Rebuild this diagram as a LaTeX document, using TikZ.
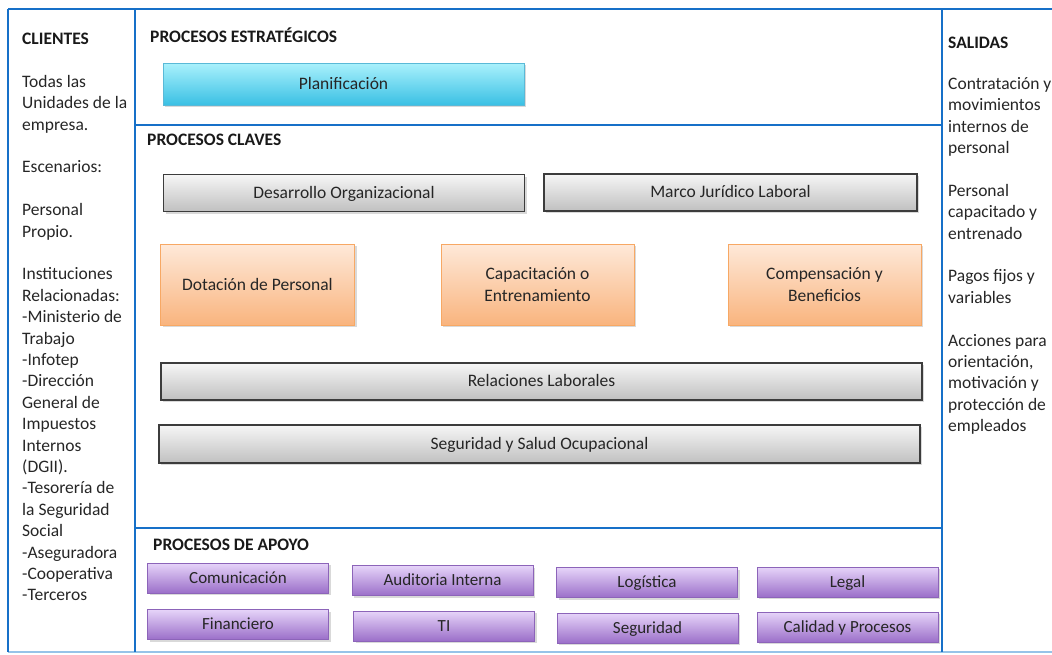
\documentclass[tikz,border=0pt]{standalone}
\usepackage{fontspec}
\setmainfont{Carlito}
\usetikzlibrary{shadows}
\definecolor{frameblue}{RGB}{22,112,200}
\definecolor{framelight}{RGB}{150,195,232}
\definecolor{txt}{RGB}{38,38,38}
\definecolor{cyantop}{RGB}{170,241,252}
\definecolor{cyanbot}{RGB}{58,192,228}
\definecolor{cyanline}{RGB}{90,185,215}
\definecolor{graytop}{RGB}{246,246,246}
\definecolor{graybot}{RGB}{192,192,192}
\definecolor{grayline}{RGB}{60,60,60}
\definecolor{orangetop}{RGB}{254,233,217}
\definecolor{orangebot}{RGB}{249,180,126}
\definecolor{orangeline}{RGB}{247,168,100}
\definecolor{purptop}{RGB}{230,212,249}
\definecolor{purpbot}{RGB}{155,111,201}
\definecolor{purpline}{RGB}{140,100,185}
\tikzset{
  frame/.style={draw=frameblue, line width=2.6pt},
  base/.style={inner sep=0pt, text=txt, font=\fontsize{17.5}{21.4}\selectfont,
    drop shadow={opacity=0.3, shadow xshift=2pt, shadow yshift=-2pt}},
  cyanbox/.style={base, draw=cyanline, line width=0.8pt, top color=cyantop, bottom color=cyanbot},
  graybox/.style={base, draw=grayline, line width=1.5pt, top color=graytop, bottom color=graybot, text height=12pt, text depth=2pt},
  orangebox/.style={base, draw=orangeline, line width=1pt, top color=orangetop, bottom color=orangebot, align=center},
  purpbox/.style={base, draw=purpline, line width=0.6pt, top color=purptop, bottom color=purpbot,
    minimum width=181, minimum height=30, font=\fontsize{17}{20}\selectfont, text height=12pt, text depth=2pt},
  coltext/.style={anchor=north west, inner sep=0pt, align=left, text=txt,
    font=\fontsize{17.5}{21.4}\selectfont},
  titletext/.style={anchor=base west, inner sep=0pt, text=black!90,
    font=\fontsize{17.5}{21.4}\selectfont\bfseries}
}
\begin{document}
\begin{tikzpicture}[x=1pt, y=-1pt]
\useasboundingbox (0,0) rectangle (1052,654);
% frame
\draw[framelight, line width=1.5pt] (8,652) -- (1052,652);
\draw[frame] (8,9) -- (1052,9);
\draw[frame] (8,9) -- (8,652);
\draw[frame] (135,9) -- (135,652);
\draw[frame] (942,9) -- (942,652);
\draw[frame] (135,125) -- (942,125);
\draw[frame] (135,528) -- (942,528);

% left column
\node[titletext] (clientes) at (22,44) {CLIENTES};
\node[coltext] (clientestxt) at (22,73) {\rule{0pt}{14pt}Todas las\\Unidades de la\\empresa.\\[21.4pt]Escenarios:\\[21.4pt]Personal\\Propio.\\[21.4pt]Instituciones\\Relacionadas:\\-Ministerio de\\Trabajo\\-Infotep\\-Dirección\\General de\\Impuestos\\Internos\\(DGII).\\-Tesorería de\\la Seguridad\\Social\\-Aseguradora\\-Cooperativa\\-Terceros};

% right column
\node[titletext] (salidas) at (948,48) {SALIDAS};
\node[coltext] (salidastxt) at (948,75) {\rule{0pt}{14pt}Contratación y\\movimientos\\internos de\\personal\\[21.4pt]Personal\\capacitado y\\entrenado\\[21.4pt]Pagos fijos y\\variables\\[21.4pt]Acciones para\\orientación,\\motivación y\\protección de\\empleados};

% section titles
\node[titletext] (estrat) at (150,42) {PROCESOS ESTRATÉGICOS};
\node[titletext] (claves) at (147,145) {PROCESOS CLAVES};
\node[titletext] (apoyo) at (153,550) {PROCESOS DE APOYO};

% strategic
\node[cyanbox, minimum width=361, minimum height=42, text height=12pt, text depth=2pt] (plan) at (343.5,84) {Planificación};

% key processes
\node[graybox, minimum width=361, minimum height=37] (desarrollo) at (344,193) {Desarrollo Organizacional};
\node[graybox, minimum width=373, minimum height=37] (marco) at (730.5,192.5) {Marco Jurídico Laboral};
\node[orangebox, minimum width=194, minimum height=81] (dotacion) at (257.5,284.5) {Dotación de Personal};
\node[orangebox, minimum width=193, minimum height=81] (capacitacion) at (537.5,284.5) {Capacitación o\\Entrenamiento};
\node[orangebox, minimum width=193, minimum height=81] (compensacion) at (824.5,284.5) {Compensación y\\Beneficios};
\node[graybox, minimum width=761, minimum height=37] (relaciones) at (541.5,381.5) {Relaciones Laborales};
\node[graybox, minimum width=761, minimum height=38] (salud) at (539.5,444) {Seguridad y Salud Ocupacional};

% support
\node[purpbox] (comunicacion) at (238,578) {Comunicación};
\node[purpbox] (auditoria) at (442.5,580.5) {Auditoria Interna};
\node[purpbox] (logistica) at (647,582.5) {Logística};
\node[purpbox] (legal) at (847.5,582) {Legal};
\node[purpbox] (financiero) at (238,624.5) {Financiero};
\node[purpbox] (ti) at (444,626) {TI};
\node[purpbox] (seguridad) at (647.5,628) {Seguridad};
\node[purpbox] (calidad) at (847.5,627) {Calidad y Procesos};
\end{tikzpicture}
\end{document}
